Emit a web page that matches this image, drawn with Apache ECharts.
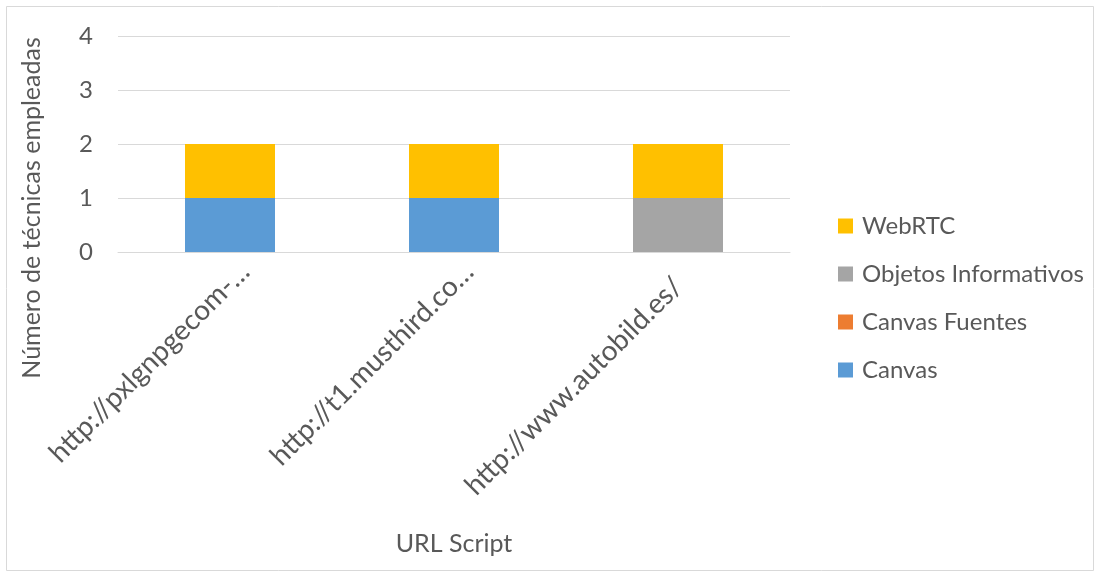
<!DOCTYPE html>
<html>
<head>
<meta charset="utf-8">
<script src="https://cdn.jsdelivr.net/npm/echarts@6/dist/echarts.min.js"></script>
<style>
  html, body { margin: 0; padding: 0; background: #fff; }
  #chart { width: 1100px; height: 577px; }
</style>
</head>
<body>
<div id="chart"></div>
<script>
// URLs of the analysed scripts
const categories = [
  'http://pxlgnpgecom-…',
  'http://t1.musthird.co…',
  'http://www.autobild.es/'
];

// Number of fingerprinting techniques per script, by technique
const canvas = [1, 1, 0];
const canvasFuentes = [0, 0, 0];
const objetosInformativos = [0, 0, 1];
const webRTC = [1, 1, 1];

const yTicks = [0, 1, 2, 3, 4];

const FONT = 'Lato, "Liberation Sans", sans-serif';
const TEXT = '#595959';

const chart = echarts.init(document.getElementById('chart'), null, { renderer: 'canvas' });

function bar(name, data, color) {
  return {
    name: name,
    type: 'bar',
    stack: 'total',
    data: data,
    barWidth: 90,
    itemStyle: { color: color },
    emphasis: { disabled: true }
  };
}

// Truncated URLs sit a little further along their slant
const xAxisData = categories.map(function (c) {
  return c.endsWith('…')
    ? { value: c, textStyle: { padding: [0, -21, 0, 0] } }
    : c;
});

chart.setOption({
  animation: false,
  backgroundColor: '#fff',
  textStyle: { fontFamily: FONT },
  graphic: [
    {
      type: 'rect',
      shape: { x: 6.5, y: 6.5, width: 1087, height: 564 },
      style: { fill: 'none', stroke: '#D9D9D9', lineWidth: 1 },
      silent: true
    },
    {
      type: 'text',
      x: 32,
      y: 208,
      rotation: Math.PI / 2,
      style: {
        text: 'Número de técnicas empleadas',
        font: '25px ' + FONT,
        fill: TEXT,
        align: 'center',
        verticalAlign: 'middle'
      },
      silent: true
    }
  ],
  legend: {
    orient: 'vertical',
    left: 833,
    top: 209,
    itemWidth: 15,
    itemHeight: 15,
    itemGap: 24,
    icon: 'rect',
    data: ['WebRTC', 'Objetos Informativos', 'Canvas Fuentes', 'Canvas'],
    textStyle: { fontSize: 24, color: TEXT, fontFamily: FONT, lineHeight: 24, padding: [0, 0, 0, 4] },
    selectedMode: false
  },
  grid: { left: 118, right: 310, top: 36, bottom: 325, containLabel: false },
  xAxis: {
    type: 'category',
    data: xAxisData,
    name: 'URL Script',
    nameLocation: 'middle',
    nameGap: 279,
    nameTextStyle: { fontSize: 25, color: TEXT, fontFamily: FONT },
    axisLine: { show: true, lineStyle: { color: '#D9D9D9', width: 1 } },
    axisTick: { show: false },
    axisLabel: { rotate: 45, fontSize: 28, color: TEXT, fontFamily: FONT, margin: 30, interval: 0 }
  },
  yAxis: {
    type: 'value',
    min: yTicks[0],
    max: yTicks[yTicks.length - 1],
    interval: 1,
    axisLine: { show: false },
    axisTick: { show: false },
    axisLabel: { fontSize: 24, color: TEXT, fontFamily: FONT, margin: 25 },
    splitLine: { lineStyle: { color: '#D9D9D9', width: 1 } }
  },
  series: [
    bar('Canvas', canvas, '#5B9BD5'),
    bar('Canvas Fuentes', canvasFuentes, '#ED7D31'),
    bar('Objetos Informativos', objetosInformativos, '#A5A5A5'),
    bar('WebRTC', webRTC, '#FFC000')
  ]
});
</script>
</body>
</html>
